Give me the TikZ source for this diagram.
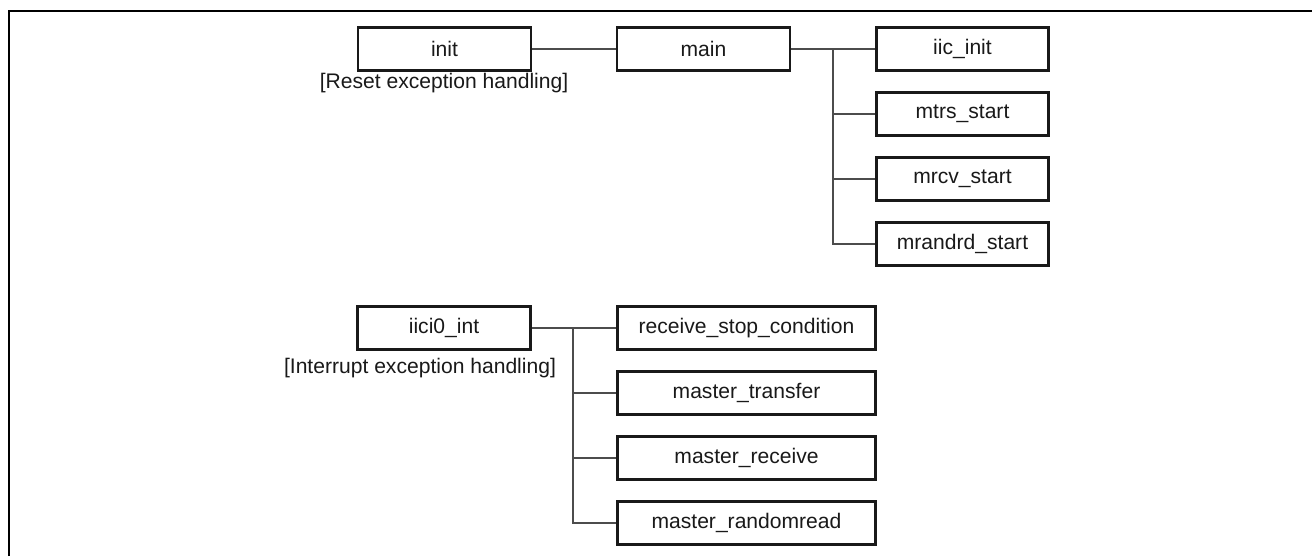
\documentclass[tikz,border=0pt]{standalone}
\usepackage{fontspec}
\setmainfont{Liberation Sans}
\begin{document}
\begin{tikzpicture}[x=0.02cm,y=-0.02cm,
  box/.style={draw=black!90, line width=1.5pt, minimum height=0.86cm, inner sep=0pt, text=black!90, font=\fontsize{12}{14}\selectfont},
  lbl/.style={inner sep=0pt, text=black!90, font=\fontsize{12}{14}\selectfont},
  link/.style={draw=black!70, line width=0.6pt}]
\useasboundingbox (0,0) rectangle (1312,556);
\draw[line width=1.4pt] (9,556) -- (9,11) -- (1312,11);
\node at (444.5,49) [box, minimum width=3.46cm](init){init};
\node at (703.5,49) [box, minimum width=3.46cm](main){main};
\node at (962.5,49) [box, minimum width=3.44cm](S1){iic\_init};
\node at (962.5,114) [box, minimum width=3.44cm](S2){mtrs\_start};
\node at (962.5,179) [box, minimum width=3.44cm](S3){mrcv\_start};
\node at (962.5,244) [box, minimum width=3.44cm](S4){mrandrd\_start};
\node at (444,83) [lbl](L1){[Reset exception handling]};
\node at (444,328) [box, minimum width=3.46cm](isr){iici0\_int};
\node at (746.5,328) [box, minimum width=5.16cm](H1){receive\_stop\_condition};
\node at (746.5,393) [box, minimum width=5.16cm](H2){master\_transfer};
\node at (746.5,458) [box, minimum width=5.16cm](H3){master\_receive};
\node at (746.5,523) [box, minimum width=5.16cm](H4){master\_randomread};
\node at (420,368) [lbl](L2){[Interrupt exception handling]};
\coordinate (B1) at (833,49);
\coordinate (B2) at (573,328);
\draw[link] (init) -- (main);
\draw[link] (main) -- (S1);
\draw[link] (B1) |- (S2);
\draw[link] (B1) |- (S3);
\draw[link] (B1) |- (S4);
\draw[link] (isr) -- (H1);
\draw[link] (B2) |- (H2);
\draw[link] (B2) |- (H3);
\draw[link] (B2) |- (H4);
\end{tikzpicture}
\end{document}
